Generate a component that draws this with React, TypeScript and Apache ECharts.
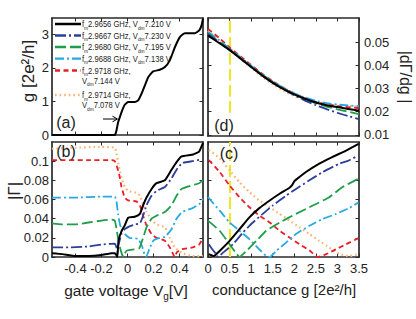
import React, { useEffect, useRef } from 'react';
import * as echarts from 'echarts';

const FONT = "'Liberation Sans', Arial, Helvetica, sans-serif";

// ---- legend / series meta ----
const freqs = ['2.9656', '2.9667', '2.9680', '2.9688', '2.9718', '2.9714'];
const vdms = ['7.210', '7.230', '7.195', '7.138', '7.144', '7.078'];
const colors = ['#000000', '#2d3f99', '#1f9d4a', '#27a9e1', '#ec1c24', '#f9b577'];
const dashes: (number[] | 'solid')[] = ['solid', [11, 3, 2, 3], [11, 4], [9, 3, 2, 3], [5, 3.5], [1.6, 3]];
const widths = [2, 1.8, 1.8, 1.8, 1.8, 2.2];

// ---- panel (a): conductance g vs gate voltage ----
const vgA = [-0.58, -0.3, -0.098, -0.085, -0.072, -0.059, -0.041, -0.021, 0.005, 0.056, 0.082, 0.108, 0.133, 0.159, 0.197, 0.248, 0.287, 0.325, 0.364, 0.402, 0.441, 0.518, 0.551, 0.569, 0.58];
const gA = [0, 0, 0, 0.13, 0.38, 0.53, 0.73, 0.9, 0.98, 0.98, 1.03, 1.23, 1.47, 1.72, 1.89, 1.94, 2.02, 2.22, 2.61, 2.91, 3.03, 3.03, 3.11, 3.26, 3.46];

// ---- panel (b): |Gamma| vs gate voltage, [Vg, |Gamma|] ----
const blackB = [[-0.58, 0.004], [-0.5, 0.003], [-0.4, 0.001], [-0.3, 0.001], [-0.2, 0.002], [-0.12, 0.004], [-0.098, 0.004], [-0.085, 0.002], [-0.078, 0.0], [-0.069, 0.017], [-0.046, 0.027], [-0.021, 0.033], [0.005, 0.041], [0.056, 0.042], [0.095, 0.045], [0.12, 0.054], [0.146, 0.062], [0.185, 0.071], [0.223, 0.077], [0.287, 0.08], [0.338, 0.091], [0.377, 0.099], [0.415, 0.105], [0.505, 0.107], [0.55, 0.11], [0.58, 0.119]];
const blueB = [[-0.58, 0.01], [-0.45, 0.01], [-0.3, 0.011], [-0.2, 0.013], [-0.098, 0.014], [-0.085, 0.01], [-0.078, 0.005], [-0.07, 0.012], [-0.046, 0.024], [-0.021, 0.029], [0.015, 0.032], [0.06, 0.034], [0.095, 0.035], [0.12, 0.043], [0.146, 0.054], [0.185, 0.064], [0.223, 0.069], [0.287, 0.073], [0.338, 0.082], [0.377, 0.091], [0.42, 0.098], [0.5, 0.1], [0.58, 0.102]];
const greenB = [[-0.58, 0.035], [-0.5, 0.034], [-0.4, 0.034], [-0.3, 0.036], [-0.2, 0.038], [-0.12, 0.039], [-0.098, 0.038], [-0.085, 0.03], [-0.072, 0.019], [-0.058, 0.01], [-0.04, 0.002], [-0.032, 0.0], [-0.02, 0.004], [0.0, 0.007], [0.05, 0.008], [0.09, 0.009], [0.12, 0.02], [0.146, 0.031], [0.185, 0.04], [0.223, 0.043], [0.287, 0.047], [0.338, 0.054], [0.377, 0.064], [0.415, 0.071], [0.5, 0.075], [0.55, 0.077], [0.58, 0.08]];
const cyanB = [[-0.58, 0.062], [-0.4, 0.062], [-0.2, 0.063], [-0.098, 0.063], [-0.085, 0.058], [-0.072, 0.045], [-0.058, 0.034], [-0.04, 0.027], [-0.021, 0.024], [0.015, 0.02], [0.08, 0.019], [0.11, 0.012], [0.13, 0.003], [0.143, 0.0], [0.167, 0.008], [0.198, 0.017], [0.223, 0.019], [0.287, 0.021], [0.338, 0.029], [0.377, 0.04], [0.42, 0.047], [0.5, 0.051], [0.55, 0.055], [0.58, 0.061]];
const redB = [[-0.58, 0.101], [-0.3, 0.101], [-0.12, 0.101], [-0.098, 0.1], [-0.085, 0.096], [-0.065, 0.087], [-0.046, 0.073], [-0.021, 0.062], [0.005, 0.059], [0.069, 0.058], [0.095, 0.054], [0.12, 0.043], [0.146, 0.033], [0.185, 0.024], [0.223, 0.02], [0.287, 0.017], [0.325, 0.01], [0.351, 0.003], [0.362, 0.0], [0.38, 0.005], [0.415, 0.008], [0.5, 0.01], [0.55, 0.013], [0.58, 0.02]];
const orangeB = [[-0.58, 0.113], [-0.4, 0.114], [-0.2, 0.115], [-0.098, 0.114], [-0.085, 0.108], [-0.065, 0.094], [-0.046, 0.083], [-0.021, 0.073], [0.005, 0.069], [0.069, 0.067], [0.095, 0.064], [0.12, 0.055], [0.146, 0.047], [0.185, 0.039], [0.223, 0.034], [0.287, 0.031], [0.325, 0.02], [0.364, 0.01], [0.415, 0.0045], [0.5, 0.001], [0.58, 0.001]];

// ---- panel (c): |Gamma| vs conductance, [g, |Gamma|] ----
const blackC = [[0.02, 0.003], [0.13, 0.001], [0.27, 0.0063], [0.5, 0.0168], [0.73, 0.029], [0.96, 0.0414], [1.19, 0.051], [1.43, 0.059], [1.66, 0.066], [1.89, 0.0723], [1.95, 0.075], [2.0, 0.079], [2.05, 0.081], [2.27, 0.0887], [2.58, 0.0975], [2.89, 0.1045], [3.2, 0.111], [3.49, 0.118]];
const blueC = [[0.02, 0.0133], [0.1, 0.008], [0.19, 0.003], [0.23, 0.0], [0.35, 0.0046], [0.58, 0.0133], [0.81, 0.0256], [1.04, 0.036], [1.27, 0.045], [1.5, 0.0537], [1.81, 0.064], [2.04, 0.071], [2.35, 0.08], [2.66, 0.0887], [3.05, 0.0975], [3.24, 0.1003], [3.49, 0.106]];
const greenC = [[0.0, 0.0379], [0.27, 0.0274], [0.5, 0.0133], [0.66, 0.0035], [0.73, 0.0], [0.89, 0.0063], [1.12, 0.0168], [1.35, 0.0274], [1.66, 0.036], [2.04, 0.045], [2.43, 0.0537], [2.81, 0.0624], [3.12, 0.073], [3.49, 0.0818]];
const cyanC = [[0.0, 0.0624], [0.27, 0.0484], [0.5, 0.036], [0.73, 0.0274], [0.96, 0.0186], [1.19, 0.008], [1.35, 0.001], [1.43, 0.0], [1.58, 0.0063], [1.81, 0.015], [2.04, 0.024], [2.35, 0.0326], [2.66, 0.0397], [2.97, 0.045], [3.28, 0.0513], [3.49, 0.057]];
const redC = [[0.02, 0.101], [0.27, 0.0887], [0.5, 0.0747], [0.73, 0.0624], [0.96, 0.0519], [1.19, 0.0432], [1.43, 0.036], [1.66, 0.0274], [1.89, 0.0203], [2.12, 0.0133], [2.35, 0.007], [2.54, 0.0], [2.74, 0.003], [2.97, 0.0081], [3.2, 0.0133], [3.49, 0.0197]];
const orangeC = [[0.02, 0.1116], [0.27, 0.103], [0.5, 0.0905], [0.73, 0.078], [0.96, 0.0677], [1.19, 0.059], [1.43, 0.0519], [1.66, 0.045], [1.89, 0.0379], [2.12, 0.031], [2.35, 0.024], [2.58, 0.0168], [2.81, 0.0098], [3.05, 0.003], [3.28, 0.001], [3.49, 0.003]];

// ---- panel (d): |dGamma/dg| vs conductance ----
const gD = [0, 0.25, 0.5, 0.75, 1, 1.25, 1.5, 1.75, 2, 2.25, 2.5, 2.75, 3, 3.25, 3.5];
const blackD = [0.0529, 0.0498, 0.0467, 0.043, 0.0393, 0.0357, 0.0325, 0.0298, 0.0275, 0.0256, 0.024, 0.0228, 0.022, 0.0212, 0.0204];
const blueD = [0.0536, 0.05, 0.0466, 0.0431, 0.0395, 0.0359, 0.0326, 0.0297, 0.0271, 0.0248, 0.0228, 0.0211, 0.0195, 0.0181, 0.0168];
const greenD = [0.054, 0.0503, 0.0468, 0.0432, 0.0396, 0.036, 0.0328, 0.03, 0.0276, 0.0255, 0.0237, 0.0222, 0.021, 0.02, 0.019];
const cyanD = [0.0545, 0.051, 0.0473, 0.0436, 0.0399, 0.0362, 0.033, 0.0303, 0.028, 0.0261, 0.0247, 0.0237, 0.0231, 0.0227, 0.0224];
const redD = [0.0558, 0.052, 0.0478, 0.044, 0.0402, 0.0365, 0.0332, 0.0303, 0.0279, 0.0258, 0.0243, 0.0232, 0.0225, 0.022, 0.0215];
const orangeD = [0.055, 0.0512, 0.0472, 0.043, 0.039, 0.0352, 0.0318, 0.029, 0.0268, 0.025, 0.0238, 0.023, 0.0226, 0.0224, 0.0222];

// ---- tick values ----
const vgTicks = [-0.4, -0.2, 0, 0.2, 0.4];
const gTicksA = [0, 1, 2, 3];
const gammaTicks = [0, 0.02, 0.04, 0.06, 0.08, 0.1];
const condTicks = [0, 0.5, 1, 1.5, 2, 2.5, 3, 3.5];
const slopeTicks = [0.01, 0.02, 0.03, 0.04, 0.05];
const markerG = 0.5;

const frame = '#2a2a2a';

function axis(gridIndex: number, position: string, min: number, max: number, ticks: number[], labels: number[] | null, margin = 4) {
  return {
    type: 'value',
    gridIndex,
    position,
    min,
    max,
    axisLine: { show: true, onZero: false, lineStyle: { color: frame, width: 1.7 } },
    axisTick: { show: true, inside: true, length: 3.5, customValues: ticks, lineStyle: { color: frame, width: 1 } },
    axisLabel: labels
      ? { show: true, customValues: labels, fontSize: 13, color: '#222', fontFamily: FONT, margin, formatter: (v: number) => String(v) }
      : { show: false },
    splitLine: { show: false },
  };
}

function lineSeries(name: string, i: number, data: number[][], xi: number, yi: number, extra: any = {}) {
  return {
    type: 'line',
    name,
    xAxisIndex: xi,
    yAxisIndex: yi,
    data,
    showSymbol: false,
    smooth: 0.15,
    lineStyle: { color: colors[i], width: widths[i], type: dashes[i], cap: 'butt' },
    z: 10 - i,
    ...extra,
  };
}

const richStyles = {
  n: { fontSize: 9.5, fontFamily: FONT, fill: '#222', lineHeight: 11 },
  s: { fontSize: 6, fontFamily: FONT, fill: '#222', lineHeight: 6, padding: [7, 0, 0, 0] },
};

export default function App() {
  const ref = useRef<HTMLDivElement>(null);
  useEffect(() => {
    if (!ref.current) return;
    const chart = echarts.init(ref.current, undefined, { renderer: 'svg' });

    const bSets = [blackB, blueB, greenB, cyanB, redB, orangeB];
    const cSets = [blackC, blueC, greenC, cyanC, redC, orangeC];
    const dSets = [blackD, blueD, greenD, cyanD, redD, orangeD];
    const names = freqs.map((f, i) => `f_m ${f} GHz, V_dm ${vdms[i]} V`);

    const series: any[] = [];
    series.push(lineSeries(names[0], 0, vgA.map((v, k) => [v, gA[k]]), 0, 0));
    bSets.forEach((d, i) => series.push(lineSeries(names[i], i, d, 2, 2)));
    cSets.forEach((d, i) =>
      series.push(
        lineSeries(names[i], i, d, 4, 4, i === 0 ? {
          markLine: {
            silent: true,
            symbol: ['none', 'none'],
            label: { show: false },
            lineStyle: { color: '#f0e61e', type: [12, 4], width: 2 },
            data: [{ xAxis: markerG }],
          },
        } : {})
      )
    );
    dSets.forEach((d, i) =>
      series.push(
        lineSeries(names[i], i, gD.map((g, k) => [g, d[k]]), 6, 6, i === 0 ? {
          markLine: {
            silent: true,
            symbol: ['none', 'none'],
            label: { show: false },
            lineStyle: { color: '#f0e61e', type: [12, 4], width: 2 },
            data: [[{ coord: [markerG, 0.0195] }, { coord: [markerG, 0.0605] }]],
          },
        } : {})
      )
    );

    // legend drawn as graphic (line samples + rich text)
    const legendY = [24, 35.5, 47, 58.7, 70.5, 95];
    const graphic: any[] = [];
    legendY.forEach((y, i) => {
      graphic.push({
        type: 'line',
        shape: { x1: 55, y1: y, x2: 81, y2: y },
        style: {
          stroke: colors[i],
          lineWidth: widths[i] + 0.5,
          lineDash: dashes[i] === 'solid' ? null : dashes[i],
        },
        z: 100,
      });
      const twoLine = i >= 4;
      const first = twoLine
        ? `{n|f}{s|m}{n|${freqs[i]} GHz,}`
        : `{n|f}{s|m}{n|${freqs[i]} GHz, V}{s|dm}{n|${vdms[i]} V}`;
      graphic.push({
        type: 'text',
        x: 82,
        y,
        scaleX: 0.8,
        style: { text: first, rich: richStyles, verticalAlign: 'middle', align: 'left', fontFamily: FONT },
        z: 100,
      });
      if (twoLine) {
        graphic.push({
          type: 'text',
          x: 82,
          y: y + 10,
          scaleX: 0.8,
          style: { text: `{n|V}{s|dm}{n|${vdms[i]} V}`, rich: richStyles, verticalAlign: 'middle', align: 'left', fontFamily: FONT },
          z: 100,
        });
      }
    });

    // arrow in (a)
    graphic.push({ type: 'line', shape: { x1: 103, y1: 119, x2: 117, y2: 119 }, style: { stroke: '#000', lineWidth: 1 }, z: 100 });
    graphic.push({ type: 'polyline', shape: { points: [[112.5, 116.2], [117.5, 119], [112.5, 121.8]] }, style: { stroke: '#000', lineWidth: 1, fill: null }, z: 100 });

    // panel labels
    const panelLabels = [
      ['(a)', 66, 122],
      ['(b)', 66, 151],
      ['(c)', 229, 153],
      ['(d)', 224, 125],
    ];
    panelLabels.forEach(([t, x, y]) => {
      graphic.push({
        type: 'text',
        x,
        y,
        style: { text: t, fontSize: 16, fontFamily: FONT, fill: '#222', align: 'center', verticalAlign: 'middle' },
        z: 100,
      });
    });

    // axis titles
    graphic.push({
      type: 'text', x: 28, y: 71, rotation: Math.PI / 2,
      style: { text: 'g [2e²/h]', fontSize: 17, fontFamily: FONT, fill: '#222', align: 'center', verticalAlign: 'middle' }, z: 100,
    });
    graphic.push({
      type: 'text', x: 14, y: 191, rotation: Math.PI / 2,
      style: { text: '|Γ|', fontSize: 17, fontFamily: FONT, fill: '#222', align: 'center', verticalAlign: 'middle' }, z: 100,
    });
    graphic.push({
      type: 'text', x: 405, y: 77, rotation: -Math.PI / 2,
      style: { text: '|dΓ/dg |', fontSize: 16, fontFamily: FONT, fill: '#222', align: 'center', verticalAlign: 'middle' }, z: 100,
    });
    graphic.push({
      type: 'text', x: 126, y: 290,
      style: {
        text: '{n|gate voltage V}{s|g}{n|[V]}',
        rich: {
          n: { fontSize: 15.5, fontFamily: FONT, fill: '#222', lineHeight: 18 },
          s: { fontSize: 10, fontFamily: FONT, fill: '#222', lineHeight: 10, padding: [12, 0, 0, 0] },
        },
        align: 'center', verticalAlign: 'middle',
      }, z: 100,
    });
    graphic.push({
      type: 'text', x: 284, y: 289,
      style: { text: 'conductance g [2e²/h]', fontSize: 15, fontFamily: FONT, fill: '#222', align: 'center', verticalAlign: 'middle' }, z: 100,
    });

    const option: any = {
      animation: false,
      backgroundColor: '#ffffff',
      grid: [
        { left: 52, top: 18, width: 151, height: 117 },
        { left: 52, top: 142, width: 151, height: 115 },
        { left: 208, top: 142, width: 151, height: 115 },
        { left: 208, top: 18, width: 151, height: 118 },
      ],
      xAxis: [
        axis(0, 'bottom', -0.58, 0.58, vgTicks, null),
        axis(0, 'top', -0.58, 0.58, vgTicks, null),
        axis(1, 'bottom', -0.58, 0.58, vgTicks, vgTicks, 5),
        axis(1, 'top', -0.58, 0.58, vgTicks, null),
        axis(2, 'bottom', 0, 3.5, condTicks, condTicks, 5),
        axis(2, 'top', 0, 3.5, condTicks, null),
        axis(3, 'bottom', 0, 3.5, condTicks, null),
        axis(3, 'top', 0, 3.5, condTicks, null),
      ],
      yAxis: [
        axis(0, 'left', 0, 3.48, gTicksA, gTicksA, 3),
        axis(0, 'right', 0, 3.48, gTicksA, null),
        axis(1, 'left', 0, 0.12, gammaTicks, gammaTicks, 3),
        axis(1, 'right', 0, 0.12, gammaTicks, null),
        axis(2, 'left', 0, 0.12, gammaTicks, null),
        axis(2, 'right', 0, 0.12, gammaTicks, null),
        axis(3, 'left', 0.0095, 0.0605, slopeTicks, null),
        axis(3, 'right', 0.0095, 0.0605, slopeTicks, slopeTicks, 5),
      ],
      series,
      graphic,
    };
    chart.setOption(option);
    return () => chart.dispose();
  }, []);
  return <div ref={ref} style={{ position: 'absolute', left: 0, top: 0, width: 416, height: 319 }} />;
}
